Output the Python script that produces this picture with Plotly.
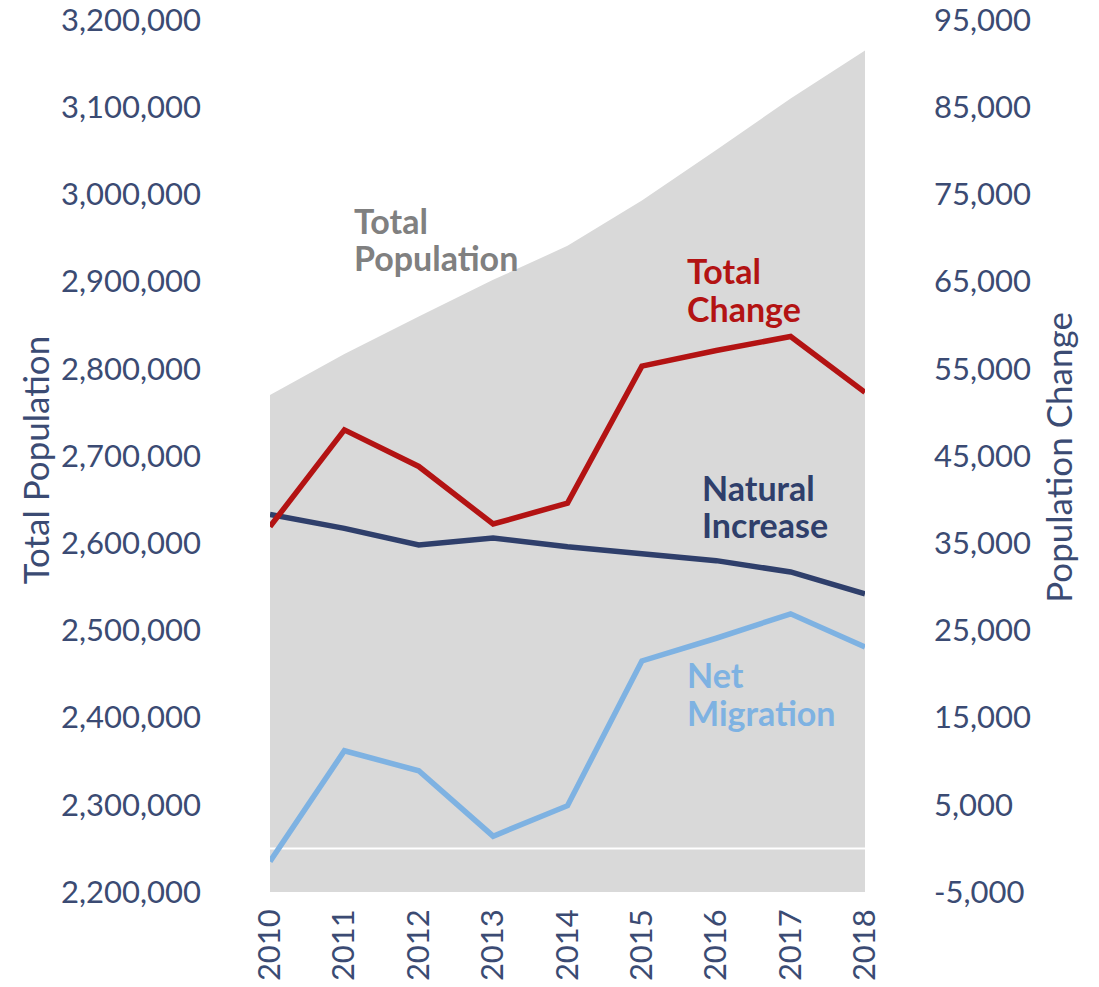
import plotly.graph_objects as go

years = [2010, 2011, 2012, 2013, 2014, 2015, 2016, 2017, 2018]
total_population = [2770000, 2817000, 2860000, 2902000, 2941000, 2993000, 3051000, 3110000, 3165000]
total_change = [36900, 48000, 43800, 37200, 39600, 55300, 57100, 58700, 52300]
natural_increase = [38300, 36700, 34800, 35600, 34600, 33800, 33000, 31700, 29200]
net_migration = [-1500, 11200, 8900, 1400, 4900, 21500, 24100, 26900, 23100]
zero_line = [0] * len(years)

left_ticks = list(range(2200000, 3200001, 100000))
right_ticks = list(range(-5000, 95001, 10000))
left_labels = [f"{v:,}" for v in left_ticks]
right_labels = [f"{v:,}" for v in right_ticks]

FONT = "Lato"
TICK_COLOR = "#3B4B73"
RED = "#B31313"
NAVY = "#2F3F6B"
LIGHT = "#7EB2E2"
GRAY = "#808080"
TS = 31

fig = go.Figure()
fig.add_trace(go.Scatter(x=years, y=total_population, fill="tozeroy", mode="none",
                         fillcolor="#D9D9D9", yaxis="y", showlegend=False, hoverinfo="skip"))
fig.add_trace(go.Scatter(x=years, y=zero_line, mode="lines", line=dict(color="white", width=2),
                         yaxis="y2", showlegend=False, hoverinfo="skip"))
fig.add_trace(go.Scatter(x=years, y=natural_increase, mode="lines", line=dict(color=NAVY, width=5.5),
                         yaxis="y2", name="Natural Increase", showlegend=False))
fig.add_trace(go.Scatter(x=years, y=net_migration, mode="lines", line=dict(color=LIGHT, width=5.5),
                         yaxis="y2", name="Net Migration", showlegend=False))
fig.add_trace(go.Scatter(x=years, y=total_change, mode="lines", line=dict(color=RED, width=5.5),
                         yaxis="y2", name="Total Change", showlegend=False))

fig.update_layout(
    width=1099, height=987,
    margin=dict(l=270, r=234, t=20, b=95, autoexpand=False),
    paper_bgcolor="white", plot_bgcolor="white",
    font=dict(family=FONT, color=TICK_COLOR, size=TS),
    xaxis=dict(range=[2010, 2018], tickvals=years, ticktext=[str(y) for y in years],
               tickangle=-90, showgrid=False, zeroline=False, showline=False, automargin=False,
               ticklabeloverflow="allow",
               ticks="", ticklabelstandoff=10, tickfont=dict(size=TS, color=TICK_COLOR, family=FONT)),
    yaxis=dict(range=[2200000, 3200000], tickvals=left_ticks, ticktext=left_labels,
               showgrid=False, zeroline=False, showline=False, ticks="", automargin=False,
               ticklabeloverflow="allow",
               ticklabelstandoff=68, tickfont=dict(size=TS, color=TICK_COLOR, family=FONT)),
    yaxis2=dict(range=[-5000, 95000], tickvals=right_ticks, ticktext=right_labels,
                overlaying="y", side="right", showgrid=False, zeroline=False, showline=False,
                ticks="", automargin=False, ticklabelstandoff=68, ticklabeloverflow="allow",
                tickfont=dict(size=TS, color=TICK_COLOR, family=FONT)),
)

def label(text, x, y, color):
    fig.add_annotation(text=text, x=x, y=y, xref="paper", yref="paper", xanchor="left",
                       yanchor="middle", align="left", showarrow=False,
                       font=dict(family=FONT, size=34, color=color, weight="bold"))

label("Total", 0.1378, 0.7706, GRAY)
label("Population", 0.1378, 0.7271, GRAY)
label("Total", 0.6975, 0.7133, RED)
label("Change", 0.6975, 0.6697, RED)
label("Natural", 0.7227, 0.4644, NAVY)
label("Increase", 0.7227, 0.4209, NAVY)
label("Net", 0.6975, 0.2489, LIGHT)
label("Migration", 0.6975, 0.2064, LIGHT)

fig.add_annotation(text="Total Population", x=0, y=0.495, xref="paper", yref="paper",
                   xanchor="center", yanchor="middle", xshift=-235,
                   showarrow=False, textangle=-90, font=dict(family=FONT, size=35, color=TICK_COLOR))
fig.add_annotation(text="Population Change", x=1, y=0.498, xref="paper", yref="paper",
                   xanchor="center", yanchor="middle", xshift=193,
                   showarrow=False, textangle=-90, font=dict(family=FONT, size=35, color=TICK_COLOR))

fig.write_html("out.html", config={"displayModeBar": False},
               post_script="document.body.style.margin='0';document.body.style.overflow='hidden';")
